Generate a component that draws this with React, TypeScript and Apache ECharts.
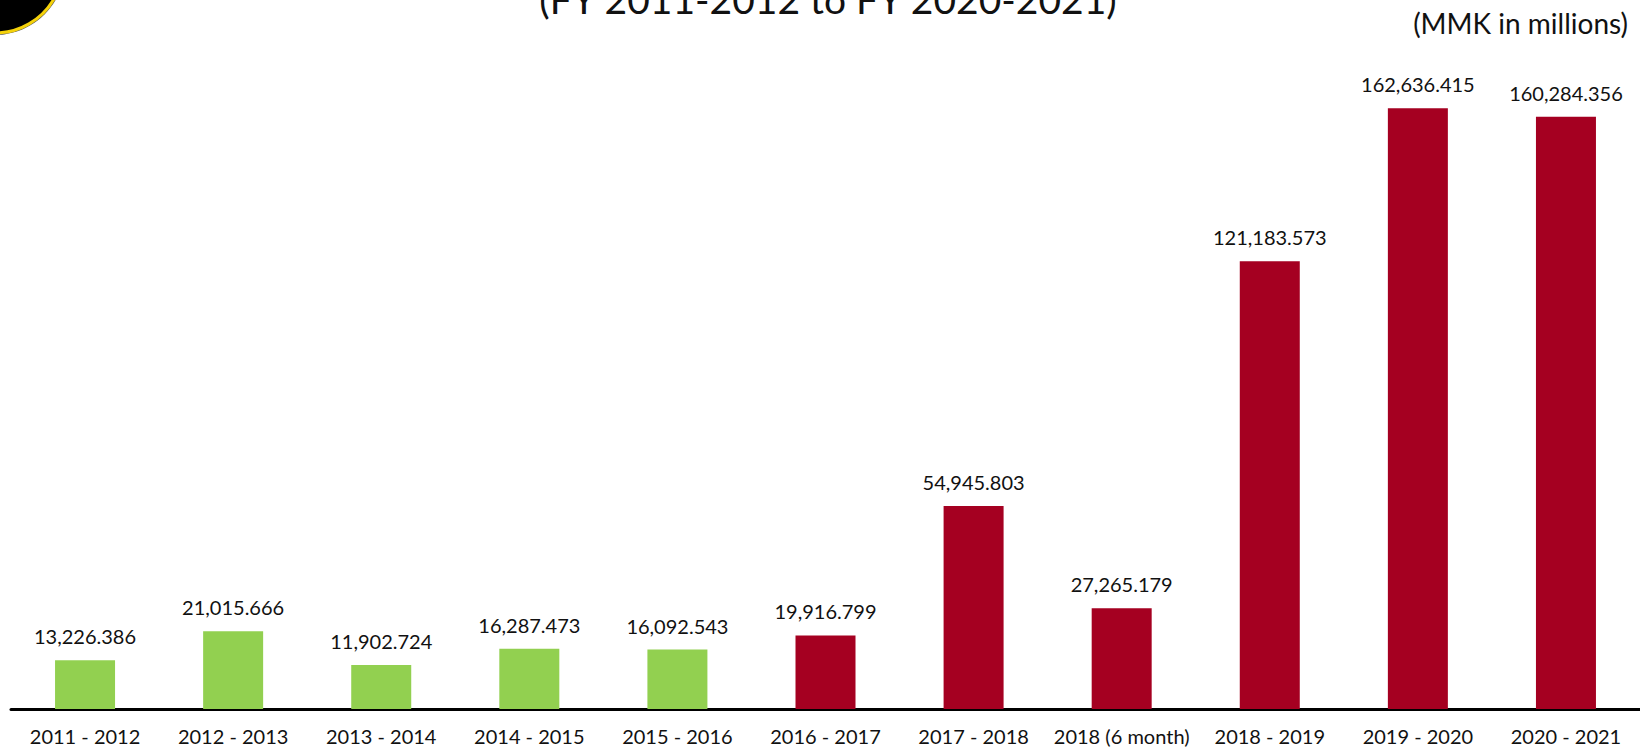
import React, { useEffect, useRef } from "react";
import * as echarts from "echarts";

const categories = [
  "2011 - 2012",
  "2012 - 2013",
  "2013 - 2014",
  "2014 - 2015",
  "2015 - 2016",
  "2016 - 2017",
  "2017 - 2018",
  "2018 (6 month)",
  "2018 - 2019",
  "2019 - 2020",
  "2020 - 2021",
];

const values = [
  13226.386, 21015.666, 11902.724, 16287.473, 16092.543, 19916.799, 54945.803,
  27265.179, 121183.573, 162636.415, 160284.356,
];

// index from which bars switch to the second colour
const secondPeriodStart = 5;

const titleText = "(FY 2011-2012 to FY 2020-2021)";
const unitText = "(MMK in millions)";

const GREEN = "#92d050";
const RED = "#a50021";
const FONT = "Lato, 'Open Sans', 'Noto Sans', sans-serif";

const fmt = new Intl.NumberFormat("en-US", {
  minimumFractionDigits: 3,
  maximumFractionDigits: 3,
});

export default function App() {
  const ref = useRef<HTMLDivElement>(null);

  useEffect(() => {
    document.body.style.margin = "0";
    if (!ref.current) return;
    const chart = echarts.init(ref.current, undefined, { renderer: "svg" });
    chart.setOption({
      animation: false,
      backgroundColor: "#ffffff",
      grid: { left: 11, right: 0, top: 44, bottom: 41 },
      xAxis: {
        type: "category",
        data: categories,
        axisLine: { show: true, lineStyle: { color: "#000", width: 3 } },
        axisTick: { show: false },
        axisLabel: {
          color: "#111",
          fontSize: 20,
          fontFamily: FONT,
          margin: 17,
          interval: 0,
        },
      },
      yAxis: {
        type: "value",
        min: 0,
        max: 180000,
        show: false,
        splitLine: { show: false },
      },
      series: [
        {
          type: "bar",
          barWidth: 60,
          data: values.map((v, i) => ({
            value: v,
            itemStyle: { color: i < secondPeriodStart ? GREEN : RED },
          })),
          label: {
            show: true,
            position: "top",
            distance: 14,
            color: "#111",
            fontSize: 20,
            fontFamily: FONT,
            formatter: (p: any) => fmt.format(p.value),
          },
        },
      ],
      graphic: [
        {
          type: "circle",
          shape: { cx: -5, cy: -35, r: 70 },
          style: { fill: "#555" },
          silent: true,
        },
        {
          type: "circle",
          shape: { cx: -5, cy: -35, r: 68 },
          style: { fill: "#000", stroke: "#f5d20a", lineWidth: 3 },
          silent: true,
        },
        {
          type: "text",
          x: 828,
          y: -1,
          style: {
            text: titleText,
            fontSize: 39,
            fontFamily: FONT,
            fill: "#111",
            align: "center",
            verticalAlign: "middle",
          },
        },
        {
          type: "text",
          x: 1628,
          y: 23,
          style: {
            text: unitText,
            fontSize: 28,
            fontFamily: FONT,
            fill: "#111",
            align: "right",
            verticalAlign: "middle",
          },
        },
      ],
    });
    return () => chart.dispose();
  }, []);

  return (
    <div
      ref={ref}
      style={{ position: "fixed", left: 0, top: 0, width: 1640, height: 750 }}
    />
  );
}
